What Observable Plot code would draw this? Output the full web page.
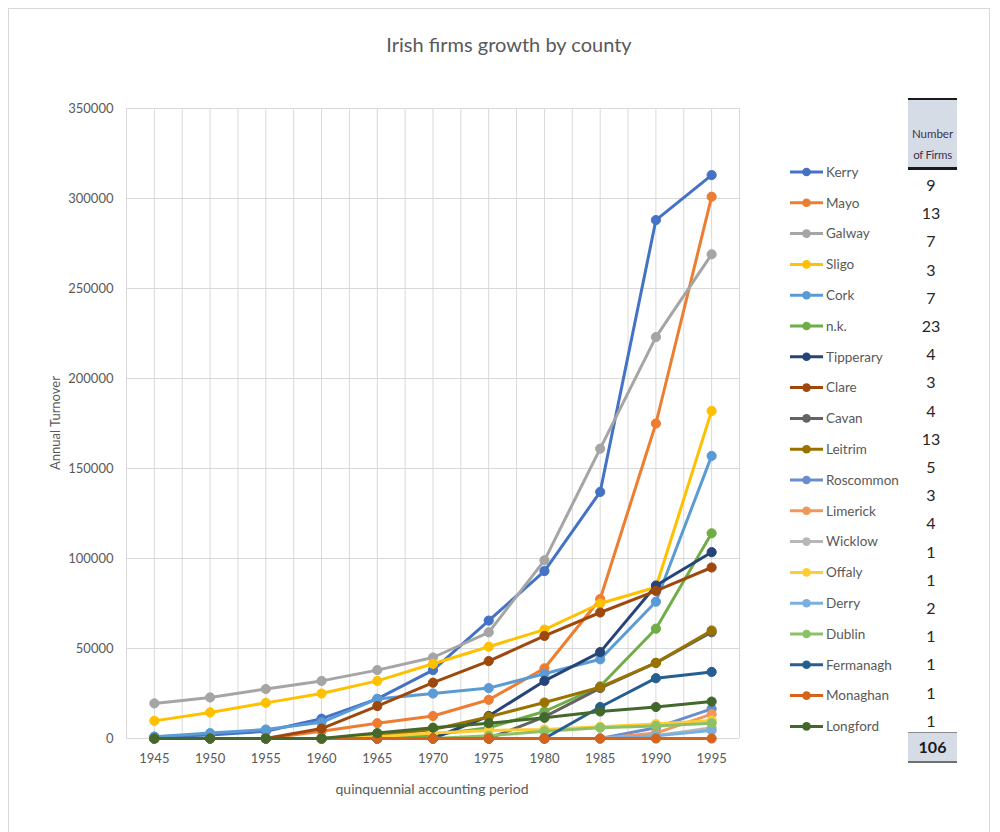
<!DOCTYPE html>
<html>
<head>
<meta charset="utf-8">
<script src="https://cdn.jsdelivr.net/npm/d3@7"></script>
<script src="https://cdn.jsdelivr.net/npm/@observablehq/plot@0.6"></script>
<style>
  html, body { margin: 0; padding: 0; background: #ffffff; }
  #root { position: relative; width: 1000px; height: 832px; font-family: Lato, "Open Sans", sans-serif; color: #595959; overflow: hidden; }
  .abs { position: absolute; }
</style>
</head>
<body>
<div id="root"></div>
<script>
// ---------- data ----------
const years = [1945, 1950, 1955, 1960, 1965, 1970, 1975, 1980, 1985, 1990, 1995];
const counties = ["Kerry", "Mayo", "Galway", "Sligo", "Cork", "n.k.", "Tipperary", "Clare", "Cavan", "Leitrim",
  "Roscommon", "Limerick", "Wicklow", "Offaly", "Derry", "Dublin", "Fermanagh", "Monaghan", "Longford"];

const kerry     = [1000, 2000, 4000, 11000, 22000, 38000, 65500, 93000, 137000, 288000, 313000];
const mayo      = [0, 0, 0, 4000, 8500, 12500, 21500, 39000, 77500, 175000, 301000];
const galway    = [19500, 22800, 27500, 32000, 38000, 45000, 59000, 99000, 161000, 223000, 269000];
const sligo     = [9800, 14500, 19800, 25000, 32000, 41500, 51000, 60500, 75000, 84000, 182000];
const cork      = [1000, 3000, 5000, 9000, 22000, 25000, 28000, 36000, 44000, 76000, 157000];
const nk        = [0, 0, 0, 0, 0, 2000, 6000, 15000, 29000, 61000, 114000];
const tipperary = [0, 0, 0, 0, 0, 0, 12500, 32000, 48000, 85000, 103500];
const clare     = [0, 0, 0, 5500, 18000, 31000, 43000, 57000, 70000, 82000, 95000];
const cavan     = [0, 0, 0, 0, 0, 0, 0, 12000, 28000, 42000, 59000];
const leitrim   = [0, 0, 0, 0, 1500, 5000, 12000, 20000, 28500, 42000, 60000];
const roscommon = [0, 0, 0, 0, 0, 0, 0, 0, 0, 6000, 16500];
const limerick  = [0, 0, 0, 0, 0, 0, 0, 0, 0, 3000, 13500];
const wicklow   = [0, 0, 0, 0, 0, 0, 0, 0, 0, 1500, 6000];
const offaly    = [0, 0, 0, 0, 1000, 3000, 4500, 5000, 6500, 8000, 10000];
const derry     = [0, 0, 0, 0, 0, 0, 0, 0, 0, 1500, 4500];
const dublin    = [0, 0, 0, 0, 0, 0, 1500, 4000, 6000, 7000, 8500];
const fermanagh = [0, 0, 0, 0, 0, 0, 0, 0, 17500, 33500, 37000];
const monaghan  = [0, 0, 0, 0, 0, 0, 0, 0, 0, 0, 0];
const longford  = [0, 0, 0, 0, 3000, 6000, 8500, 11500, 15000, 17500, 20500];

const seriesValues = [kerry, mayo, galway, sligo, cork, nk, tipperary, clare, cavan, leitrim,
  roscommon, limerick, wicklow, offaly, derry, dublin, fermanagh, monaghan, longford];

const firmCounts = [9, 13, 7, 3, 7, 23, 4, 3, 4, 13, 5, 3, 4, 1, 1, 2, 1, 1, 1, 1];
const firmTotal = "106";
const yTicks = [0, 50000, 100000, 150000, 200000, 250000, 300000, 350000];

const titleText = "Irish firms growth by county";
const xTitle = "quinquennial accounting period";
const yTitle = "Annual Turnover";
const tableHeader = ["Number", "of Firms"];

// ---------- styling ----------
const palette = ["#4472C4", "#ED7D31", "#A5A5A5", "#FFC000", "#5B9BD5", "#70AD47", "#264478", "#9E480E", "#636363", "#997300",
  "#698ED0", "#F1975A", "#B7B7B7", "#FFCD33", "#7CAFDD", "#8CC168", "#255E91", "#D5631B", "#43682B"];

const rows = counties.flatMap((c, i) => years.map((y, j) => ({county: c, year: y, value: seriesValues[i][j]})));

const step = years[1] - years[0];
const gridX = d3.range(years[0] - step / 2, years[years.length - 1] + step / 2 + 0.01, step / 2);

const seriesMarks = counties.flatMap((c, i) => {
  const d = rows.filter(r => r.county === c);
  return [
    Plot.line(d, {x: "year", y: "value", stroke: palette[i], strokeWidth: 3, strokeLinejoin: "round", strokeLinecap: "round"}),
    Plot.dot(d, {x: "year", y: "value", r: 4.6, fill: palette[i], stroke: palette[i], strokeWidth: 1})
  ];
});

const chart = Plot.plot({
  width: 760,
  height: 832,
  marginLeft: 126,
  marginRight: 21,
  marginTop: 108,
  marginBottom: 94,
  x: {type: "linear", domain: [years[0] - step / 2, years[years.length - 1] + step / 2], ticks: years,
      tickFormat: d => String(d), tickSize: 0, tickPadding: 15, label: null},
  y: {domain: [0, 350000], ticks: yTicks, tickFormat: d3.format("d"), tickSize: 0, tickPadding: 13, label: null},
  style: {fontFamily: "Lato, 'Open Sans', sans-serif", fontSize: "13px", color: "#595959", background: "transparent", overflow: "visible"},
  marks: [
    Plot.ruleX(gridX, {stroke: "#d9d9d9", strokeWidth: 1}),
    Plot.ruleY(yTicks, {stroke: "#d9d9d9", strokeWidth: 1}),
    ...seriesMarks
  ]
});

const root = document.getElementById("root");

// outer border
const border = document.createElement("div");
border.className = "abs";
Object.assign(border.style, {left: "8px", top: "8px", width: "982px", height: "830px", border: "1px solid #d9d9d9", boxSizing: "border-box"});
root.appendChild(border);

chart.style.position = "absolute";
chart.style.left = "0px";
chart.style.top = "0px";
root.appendChild(chart);

function addText(txt, css) {
  const el = document.createElement("div");
  el.className = "abs";
  el.textContent = txt;
  Object.assign(el.style, css);
  root.appendChild(el);
  return el;
}

addText(titleText, {left: "0px", top: "31px", width: "1018px", textAlign: "center", fontSize: "20px", color: "#595959", lineHeight: "26px"});
addText(xTitle, {left: "232px", top: "780px", width: "400px", textAlign: "center", fontSize: "14px", lineHeight: "18px"});
addText(yTitle, {left: "-45px", top: "414px", width: "200px", textAlign: "center", fontSize: "13px", lineHeight: "18px", transform: "rotate(-90deg)", transformOrigin: "100px 9px"});

// legend
const legend = d3.select(root).append("svg")
  .attr("class", "abs")
  .style("left", "780px").style("top", "150px")
  .attr("width", 130).attr("height", 600);
const legStep = 30.8;
counties.forEach((c, i) => {
  const g = legend.append("g").attr("transform", `translate(0,${22 + i * legStep})`);
  g.append("line").attr("x1", 10).attr("x2", 43).attr("y1", 0).attr("y2", 0)
    .attr("stroke", palette[i]).attr("stroke-width", 3);
  g.append("circle").attr("cx", 26.5).attr("cy", 0).attr("r", 4.3).attr("fill", palette[i]);
  g.append("text").attr("x", 46).attr("y", 0).attr("dy", "0.35em")
    .attr("font-family", "Lato, 'Open Sans', sans-serif").attr("font-size", 13.5).attr("fill", "#595959").text(c);
});

// table of number of firms
const head = document.createElement("div");
head.className = "abs";
Object.assign(head.style, {left: "908px", top: "98px", width: "49px", height: "72px", background: "#D6DCE5",
  borderTop: "2px solid #1a1a1a", borderBottom: "3px solid #1a1a1a", boxSizing: "border-box"});
root.appendChild(head);
addText(tableHeader[0], {left: "908px", top: "127px", width: "49px", textAlign: "center", fontSize: "11.5px", color: "#403152", lineHeight: "14px"});
addText(tableHeader[1], {left: "908px", top: "148px", width: "49px", textAlign: "center", fontSize: "11.5px", color: "#403152", lineHeight: "14px", letterSpacing: "-0.3px"});

firmCounts.forEach((n, i) => {
  addText(String(n), {left: "908px", top: (175 + i * 28.2) + "px", width: "46px", textAlign: "center", fontSize: "16px", color: "#262626", lineHeight: "20px"});
});
const tot = document.createElement("div");
tot.className = "abs";
Object.assign(tot.style, {left: "908px", top: "732px", width: "49px", height: "31px", background: "#D6DCE5",
  borderTop: "1px solid #8a8a8a", borderBottom: "2px solid #6f6f6f", boxSizing: "border-box"});
root.appendChild(tot);
addText(firmTotal, {left: "908px", top: "737px", width: "49px", textAlign: "center", fontSize: "16px", fontWeight: "bold", color: "#1a1a1a", lineHeight: "20px"});
</script>
</body>
</html>
